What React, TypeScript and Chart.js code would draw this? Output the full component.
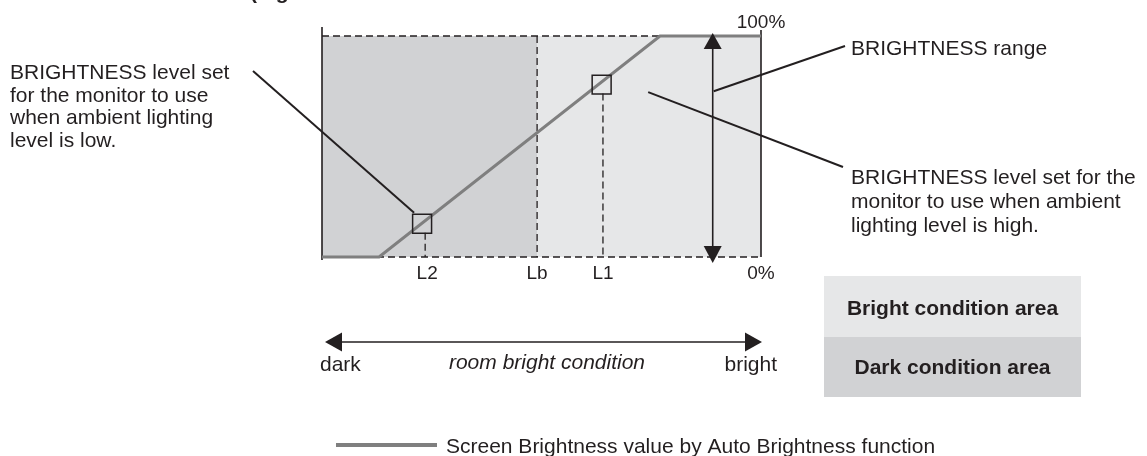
import React, { useEffect, useRef } from 'react';
import { Chart, registerables } from 'chart.js';

Chart.register(...registerables);

// ---- data ----
const curveX = [0, 13, 77, 100];
const curveY = [0, 0, 100, 100];
const markerX = [22.8, 63.7];
const markerY = [15, 78];
const tickLabels = ['L2', 'Lb', 'L1'];
const tickValues = [23.5, 49, 64];
const yTickLabels = ['0%', '100%'];
const yTickValues = [0, 100];
const darkRange = [0, 49];
const brightRange = [49, 100];
const rangeArrowX = 89;
const legendLabel = 'Screen Brightness value by Auto Brightness function';
const leftNote = ['BRIGHTNESS level set', 'for the monitor to use', 'when ambient lighting', 'level is low.'];
const rightNote = ['BRIGHTNESS level set for the', 'monitor to use when ambient', 'lighting level is high.'];
const rangeNote = 'BRIGHTNESS range';
const areaLabels = ['Bright condition area', 'Dark condition area'];
const roomLabels = ['dark', 'room bright condition', 'bright'];

const INK = '#231f20';
const CURVE = '#7f7f7f';
const DARK_FILL = '#d1d2d4';
const LIGHT_FILL = '#e6e7e8';
const FONT = "'Liberation Sans', Arial, Helvetica, sans-serif";

function line(ctx: CanvasRenderingContext2D, x1: number, y1: number, x2: number, y2: number) {
  ctx.beginPath();
  ctx.moveTo(x1, y1);
  ctx.lineTo(x2, y2);
  ctx.stroke();
}

function tri(ctx: CanvasRenderingContext2D, pts: number[][]) {
  ctx.beginPath();
  ctx.moveTo(pts[0][0], pts[0][1]);
  ctx.lineTo(pts[1][0], pts[1][1]);
  ctx.lineTo(pts[2][0], pts[2][1]);
  ctx.closePath();
  ctx.fill();
}

const diagramPlugin = {
  id: 'diagram',
  beforeDatasetsDraw(chart: any) {
    const ctx: CanvasRenderingContext2D = chart.ctx;
    const xs = chart.scales.x;
    const ys = chart.scales.y;
    const top = ys.getPixelForValue(100);
    const bottom = ys.getPixelForValue(0);
    ctx.save();
    ctx.fillStyle = DARK_FILL;
    ctx.fillRect(xs.getPixelForValue(darkRange[0]), top, xs.getPixelForValue(darkRange[1]) - xs.getPixelForValue(darkRange[0]), bottom - top);
    ctx.fillStyle = LIGHT_FILL;
    ctx.fillRect(xs.getPixelForValue(brightRange[0]), top, xs.getPixelForValue(brightRange[1]) - xs.getPixelForValue(brightRange[0]), bottom - top);

    ctx.strokeStyle = INK;
    ctx.lineWidth = 1.3;
    ctx.setLineDash([7, 4]);
    line(ctx, xs.getPixelForValue(0), top, xs.getPixelForValue(100), top);
    line(ctx, xs.getPixelForValue(0), bottom, xs.getPixelForValue(100), bottom);
    // Lb
    line(ctx, xs.getPixelForValue(tickValues[1]), top, xs.getPixelForValue(tickValues[1]), bottom);
    // L2 & L1 from marker boxes
    line(ctx, xs.getPixelForValue(tickValues[0]), ys.getPixelForValue(markerY[0]) + 9, xs.getPixelForValue(tickValues[0]), bottom);
    line(ctx, xs.getPixelForValue(tickValues[2]), ys.getPixelForValue(markerY[1]) + 9, xs.getPixelForValue(tickValues[2]), bottom);
    ctx.setLineDash([]);
    ctx.lineWidth = 1.6;
    line(ctx, xs.getPixelForValue(0), top - 9, xs.getPixelForValue(0), bottom + 3);
    line(ctx, xs.getPixelForValue(100), top - 6, xs.getPixelForValue(100), bottom);
    ctx.restore();
  },
  afterDatasetsDraw(chart: any) {
    const ctx: CanvasRenderingContext2D = chart.ctx;
    const xs = chart.scales.x;
    const ys = chart.scales.y;
    const top = ys.getPixelForValue(100);
    const bottom = ys.getPixelForValue(0);
    const left = xs.getPixelForValue(0);
    const right = xs.getPixelForValue(100);
    ctx.save();
    ctx.strokeStyle = INK;
    ctx.fillStyle = INK;

    // range double arrow
    const ax = xs.getPixelForValue(rangeArrowX);
    ctx.lineWidth = 1.6;
    line(ctx, ax, top + 10, ax, bottom - 5);
    tri(ctx, [[ax, top - 3], [ax - 9, top + 13], [ax + 9, top + 13]]);
    tri(ctx, [[ax, bottom + 6], [ax - 9, bottom - 11], [ax + 9, bottom - 11]]);

    // tick labels
    ctx.font = `19px ${FONT}`;
    ctx.textAlign = 'center';
    ctx.textBaseline = 'alphabetic';
    tickLabels.forEach((t, i) => {
      ctx.fillText(t, xs.getPixelForValue(tickValues[i]) + (i === 0 ? 2 : 0), bottom + 22);
    });
    ctx.fillText(yTickLabels[0], right, ys.getPixelForValue(yTickValues[0]) + 22);
    ctx.fillText(yTickLabels[1], right, ys.getPixelForValue(yTickValues[1]) - 8);

    // leader lines
    ctx.lineWidth = 2;
    line(ctx, 253, 71, xs.getPixelForValue(markerX[0]) - 8, ys.getPixelForValue(markerY[0]) - 11);
    line(ctx, ax + 1, ys.getPixelForValue(75), 845, 46);
    line(ctx, xs.getPixelForValue(74.3), ys.getPixelForValue(74.6), 843, 167);

    // notes
    ctx.font = `21px ${FONT}`;
    ctx.textAlign = 'left';
    leftNote.forEach((t, i) => ctx.fillText(t, 10, 79 + i * 22.7));
    ctx.fillText(rangeNote, 851, 55);
    rightNote.forEach((t, i) => ctx.fillText(t, 851, 184 + i * 24));

    // room bright condition arrow
    const ry = 342;
    ctx.lineWidth = 1.6;
    line(ctx, left + 18, ry, right - 15, ry);
    tri(ctx, [[left + 3, ry], [left + 20, ry - 9.5], [left + 20, ry + 9.5]]);
    tri(ctx, [[right + 1, ry], [right - 16, ry - 9.5], [right - 16, ry + 9.5]]);
    ctx.font = `21px ${FONT}`;
    ctx.textAlign = 'left';
    ctx.fillText(roomLabels[0], 320, 371);
    ctx.textAlign = 'right';
    ctx.fillText(roomLabels[2], 777, 371);
    ctx.textAlign = 'center';
    ctx.font = `italic 21px ${FONT}`;
    ctx.fillText(roomLabels[1], 547, 369);

    // area legend boxes
    ctx.fillStyle = LIGHT_FILL;
    ctx.fillRect(824, 276, 257, 61);
    ctx.fillStyle = DARK_FILL;
    ctx.fillRect(824, 337, 257, 60);
    ctx.fillStyle = INK;
    ctx.font = `bold 21px ${FONT}`;
    ctx.textAlign = 'center';
    ctx.fillText(areaLabels[0], 952.5, 315);
    ctx.fillText(areaLabels[1], 952.5, 374);

    // series legend
    ctx.strokeStyle = CURVE;
    ctx.lineWidth = 4;
    line(ctx, 336, 445, 437, 445);
    ctx.fillStyle = INK;
    ctx.font = `21px ${FONT}`;
    ctx.textAlign = 'left';
    ctx.fillText(legendLabel, 446, 453);

    // cut-off title at the very top
    ctx.font = `bold 21px ${FONT}`;
    ctx.fillText('(Figure', 250, -1);
    ctx.restore();
  },
};

export default function App() {
  const ref = useRef<HTMLCanvasElement | null>(null);
  useEffect(() => {
    document.body.style.margin = '0';
    const canvas = ref.current;
    if (!canvas) return;
    const chart = new Chart(canvas, {
      type: 'line',
      data: {
        datasets: [
          {
            label: legendLabel,
            data: curveX.map((x, i) => ({ x, y: curveY[i] })),
            borderColor: CURVE,
            borderWidth: 3,
            pointRadius: 0,
            tension: 0,
            fill: false,
            clip: false as any,
            order: 2,
          },
          {
            type: 'scatter' as any,
            label: 'markers',
            data: markerX.map((x, i) => ({ x, y: markerY[i] })),
            pointStyle: 'rect',
            pointRadius: 13.4,
            borderColor: INK,
            borderWidth: 1.5,
            backgroundColor: 'rgba(0,0,0,0)',
            showLine: false,
            clip: false as any,
            order: 1,
          } as any,
        ],
      },
      options: {
        animation: false,
        responsive: false,
        devicePixelRatio: 1,
        layout: { padding: { left: 322, right: 386, top: 36, bottom: 199 } },
        scales: {
          x: { type: 'linear', min: 0, max: 100, display: false },
          y: { type: 'linear', min: 0, max: 100, display: false },
        },
        plugins: {
          legend: { display: false },
          tooltip: { enabled: false },
        },
        events: [],
      },
      plugins: [diagramPlugin],
    });
    return () => chart.destroy();
  }, []);
  return (
    <div style={{ position: 'absolute', left: 0, top: 0, width: 1147, height: 456, background: '#fff' }}>
      <canvas ref={ref} width={1147} height={456} style={{ display: 'block' }} />
    </div>
  );
}
